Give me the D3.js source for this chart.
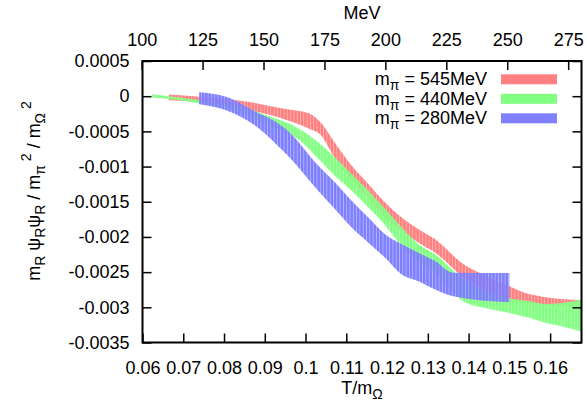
<!DOCTYPE html>
<html>
<head>
<meta charset="utf-8">
<script src="https://cdn.jsdelivr.net/npm/d3@7"></script>
<style>
  body { margin: 0; background: #fff; }
  svg text { font-family: "Liberation Sans", Arial, sans-serif; fill: #000; }
</style>
</head>
<body>
<div id="chart"></div>
<script>

// data: temperature T/m_Omega and band edges
var tRed = [0.0664, 0.0739, 0.0862, 0.0944, 0.1009, 0.1036, 0.1072, 0.1113, 0.1154, 0.1195, 0.1236, 0.1277, 0.1318, 0.1387, 0.1443, 0.15, 0.155, 0.1677];
var hiRed = [0.000024, -0.000007, -0.000081, -0.000176, -0.000247, -0.000367, -0.00066, -0.000986, -0.001247, -0.00151, -0.001724, -0.00189, -0.002033, -0.002386, -0.002557, -0.0027, -0.002814, -0.0029];
var loRed = [-0.000057, -0.000086, -0.0002, -0.000319, -0.000461, -0.000543, -0.00088, -0.00119, -0.001453, -0.001724, -0.001914, -0.002081, -0.002224, -0.002571, -0.002771, -0.002914, -0.002943, -0.003014];

var tGreen = [0.0623, 0.0738, 0.0844, 0.0925, 0.095, 0.0991, 0.1031, 0.1072, 0.1113, 0.1154, 0.1195, 0.1236, 0.1277, 0.1318, 0.1387, 0.1443, 0.15, 0.155, 0.159, 0.163, 0.1677];
var hiGreen = [0.000029, -0.000053, -0.000157, -0.000314, -0.000367, -0.000486, -0.000653, -0.000867, -0.001104, -0.001343, -0.0016, -0.001867, -0.002104, -0.002247, -0.0026, -0.002757, -0.002871, -0.002914, -0.002953, -0.002939, -0.00289];
var loGreen = [-0.000019, -0.0001, -0.000243, -0.000457, -0.0005, -0.000653, -0.000886, -0.001129, -0.001343, -0.001581, -0.001829, -0.002129, -0.002343, -0.002514, -0.002914, -0.003014, -0.003081, -0.003153, -0.003224, -0.003271, -0.003343];

var tBlue = [0.0739, 0.0803, 0.0885, 0.0926, 0.0959, 0.1031, 0.1072, 0.1113, 0.1154, 0.1195, 0.1236, 0.1277, 0.1318, 0.1362, 0.15];
var hiBlue = [0.000057, -0.000004, -0.000243, -0.000361, -0.000504, -0.000986, -0.001224, -0.001486, -0.001724, -0.001961, -0.002104, -0.002224, -0.002343, -0.00251, -0.002514];
var loBlue = [-0.000114, -0.000196, -0.000457, -0.000671, -0.000861, -0.001343, -0.001604, -0.001867, -0.002081, -0.002296, -0.002533, -0.002629, -0.002747, -0.002843, -0.002929];

var seriesNames = ["545", "440", "280"];
var seriesColors = ["#ff8080", "#80ff80", "#8080ff"];

var xTicks = [0.06, 0.07, 0.08, 0.09, 0.1, 0.11, 0.12, 0.13, 0.14, 0.15, 0.16];
var yTicks = [0.0005, 0, -0.0005, -0.001, -0.0015, -0.002, -0.0025, -0.003, -0.0035];
var mevTicks = [100, 125, 150, 175, 200, 225, 250, 275];
var mOmega = 1672.45;

var svgWidth = 586;
var svgHeight = 407;
var margin = {top: 61, right: 4.5, bottom: 64.5, left: 142.5};
var width = svgWidth - margin.left - margin.right;
var height = svgHeight - margin.top - margin.bottom;
var fontSize = 18;
var subSize = 14;

var svg = d3.select("#chart")
    .append("svg")
    .attr("width", svgWidth)
    .attr("height", svgHeight);

var chartGroup = svg.append("g")
    .attr("transform", `translate(${margin.left}, ${margin.top})`);

var xScale = d3.scaleLinear().domain([0.06, 0.1677]).range([0, width]);
var yScale = d3.scaleLinear().domain([-0.0035, 0.0005]).range([height, 0]);
var x2Scale = d3.scaleLinear().domain([0.06 * mOmega, 0.1677 * mOmega]).range([0, width]);

// striped fill like gnuplot's dense filled curves
var defs = svg.append("defs");
seriesColors.forEach(function(c, i) {
    var pat = defs.append("pattern")
        .attr("id", "stripe" + i)
        .attr("patternUnits", "userSpaceOnUse")
        .attr("width", 3.3)
        .attr("height", 20);
    pat.append("rect")
        .attr("x", 0)
        .attr("y", 0)
        .attr("width", 2.95)
        .attr("height", 20)
        .attr("fill", c);
});

var bands = [
    {t: tRed, hi: hiRed, lo: loRed},
    {t: tGreen, hi: hiGreen, lo: loGreen},
    {t: tBlue, hi: hiBlue, lo: loBlue}
];

var area = d3.area()
    .curve(d3.curveMonotoneX)
    .x(d => xScale(d.t))
    .y0(d => yScale(d.lo))
    .y1(d => yScale(d.hi));

bands.forEach(function(b, i) {
    var rows = b.t.map((t, j) => ({t: t, hi: b.hi[j], lo: b.lo[j]}));
    chartGroup.append("path")
        .datum(rows)
        .attr("d", area)
        .attr("fill", "url(#stripe" + i + ")");
});

// axes (gnuplot style: inward ticks, mirrored on the right)
var tickLen = 9;
var bottomAxis = d3.axisBottom(xScale).tickValues(xTicks).tickSize(-tickLen).tickPadding(19)
    .tickFormat(d => String(+d.toFixed(2)));
var leftAxis = d3.axisLeft(yScale).tickValues(yTicks).tickSize(-tickLen).tickPadding(13)
    .tickFormat(d => String(+d.toFixed(4)));
var rightAxis = d3.axisRight(yScale).tickValues(yTicks).tickSize(-tickLen).tickFormat("");
var topAxis = d3.axisTop(x2Scale).tickValues(mevTicks).tickSize(-tickLen).tickPadding(15);

var xAxis = chartGroup.append("g")
    .attr("transform", `translate(0, ${height})`)
    .call(bottomAxis);
var yAxis = chartGroup.append("g").call(leftAxis);
var yAxis2 = chartGroup.append("g")
    .attr("transform", `translate(${width}, 0)`)
    .call(rightAxis);
var x2Axis = chartGroup.append("g").call(topAxis);

[xAxis, yAxis, yAxis2, x2Axis].forEach(function(a) {
    a.select(".domain").remove();
    a.selectAll(".tick line").attr("stroke", "#000").attr("stroke-width", 1.5);
    a.selectAll("text").attr("font-size", fontSize).attr("font-family", null);
});

chartGroup.append("rect")
    .attr("width", width)
    .attr("height", height)
    .attr("fill", "none")
    .attr("stroke", "#000")
    .attr("stroke-width", 2);

// axis titles
svg.append("text")
    .attr("x", margin.left + width / 2)
    .attr("y", 19)
    .attr("text-anchor", "middle")
    .attr("font-size", fontSize)
    .text("MeV");

var xLabel = svg.append("text")
    .attr("x", margin.left + width / 2)
    .attr("y", 394)
    .attr("text-anchor", "middle")
    .attr("font-size", fontSize);
xLabel.append("tspan").text("T/m");
xLabel.append("tspan").attr("dy", 5).attr("font-size", subSize).text("Ω");

var yLabel = svg.append("text")
    .attr("transform", `translate(40, 191) rotate(-90)`)
    .attr("text-anchor", "middle")
    .attr("font-size", fontSize);
yLabel.append("tspan").text("m");
yLabel.append("tspan").attr("dy", 5).attr("font-size", subSize).text("R");
yLabel.append("tspan").attr("dy", -5).text(" ψ");
yLabel.append("tspan").attr("dy", 5).attr("font-size", subSize).text("R");
yLabel.append("tspan").attr("dy", -5).text("ψ");
yLabel.append("tspan").attr("dy", 5).attr("font-size", subSize).text("R");
yLabel.append("tspan").attr("dy", -5).text(" / m");
yLabel.append("tspan").attr("dy", 5).attr("font-size", subSize).text("π");
yLabel.append("tspan").attr("dy", -14).attr("font-size", subSize).text(" 2");
yLabel.append("tspan").attr("dy", 9).text(" / m");
yLabel.append("tspan").attr("dy", 5).attr("font-size", subSize).text("Ω");
yLabel.append("tspan").attr("dy", -14).attr("font-size", subSize).text(" 2");

// legend
var legend = svg.append("g");
seriesNames.forEach(function(name, i) {
    var cy = 79.3 + i * 19.5;
    var t = legend.append("text")
        .attr("x", 487)
        .attr("y", cy + 6)
        .attr("text-anchor", "end")
        .attr("font-size", fontSize);
    t.append("tspan").text("m");
    t.append("tspan").attr("dy", 5).attr("font-size", subSize).text("π");
    t.append("tspan").attr("dy", -5).text(" = " + name + "MeV");
    legend.append("rect")
        .attr("x", 501)
        .attr("y", cy - 5)
        .attr("width", 56)
        .attr("height", 10)
        .attr("fill", seriesColors[i]);
});

</script>
</body>
</html>
